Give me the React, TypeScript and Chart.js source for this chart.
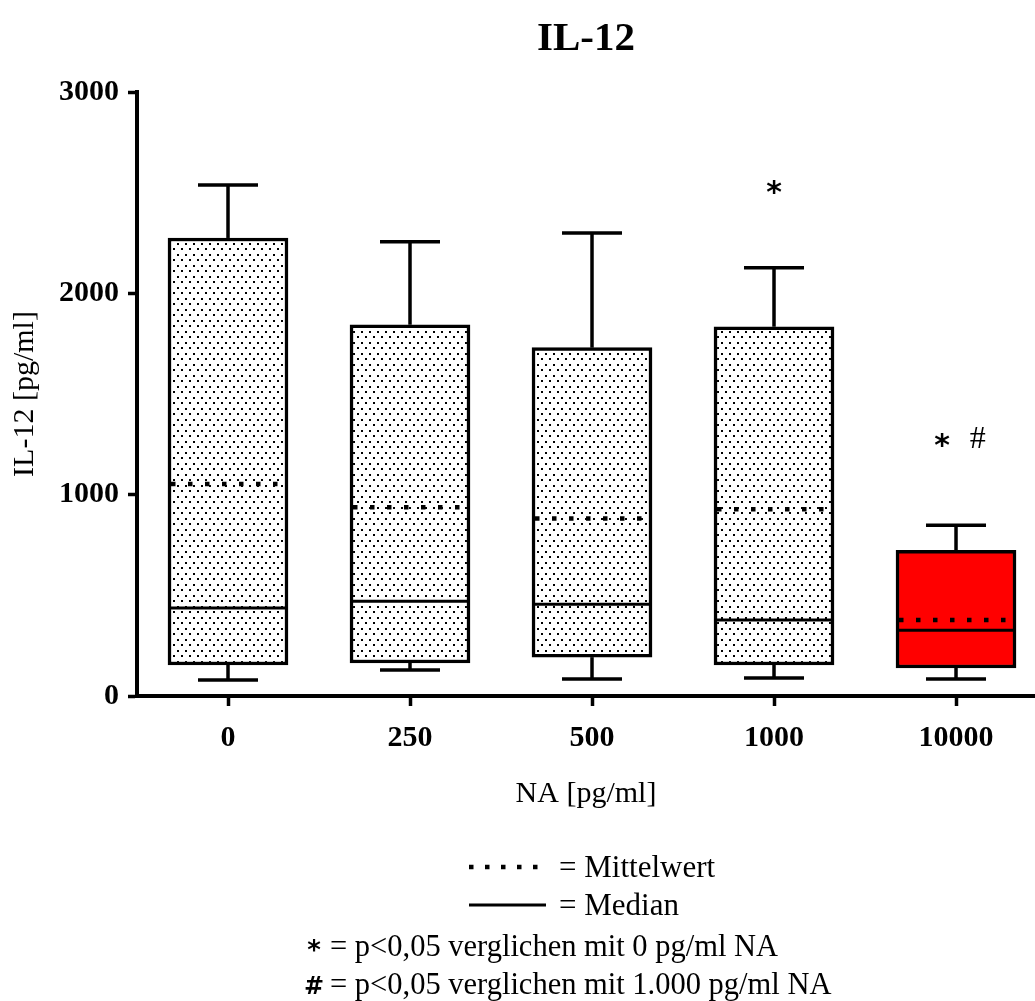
import React, { useEffect, useRef } from "react";
import { Chart, registerables } from "chart.js";

Chart.register(...registerables);

// ---- data ----
const categories = ["0", "250", "500", "1000", "10000"];
const whiskerLow = [80, 129, 84, 89, 84];
const boxLow = [154, 164, 193, 154, 139];
const medians = [437, 471, 456, 377, 327];
const means = [1053, 937, 882, 927, 377];
const boxHigh = [2275, 1844, 1730, 1834, 724];
const whiskerHigh = [2538, 2256, 2300, 2127, 848];
const boxFills = ["dots", "dots", "dots", "dots", "#ff0000"];
const yTickValues = [0, 1000, 2000, 3000];

// significance marks: category index, value (baseline), text
const sigCats = [3, 4, 4];
const sigShift = [0, -0.077, 0.12];
const sigValues = [2455, 1195, 1232];
const sigTexts = ["*", "*", "#"];

const titleText = "IL-12";
const xTitle = "NA [pg/ml]";
const yTitle = "IL-12 [pg/ml]";
const legendMean = "= Mittelwert";
const legendMedian = "= Median";
const legendStar = "= p<0,05 verglichen mit 0 pg/ml NA";
const legendHash = "= p<0,05 verglichen mit 1.000 pg/ml NA";

const SERIF = "'Liberation Serif', 'Times New Roman', serif";
const SANS = "'DejaVu Sans', sans-serif";

const BOX_W = 120;
const CAP_HALF = 30;

function line(ctx: CanvasRenderingContext2D, x1: number, y1: number, x2: number, y2: number) {
  ctx.beginPath();
  ctx.moveTo(x1, y1);
  ctx.lineTo(x2, y2);
  ctx.stroke();
}

const extrasPlugin = {
  id: "boxExtras",
  afterDatasetsDraw(chart: any) {
    const { ctx } = chart;
    const x = chart.scales.x;
    const y = chart.scales.y;
    const half = BOX_W / 2;
    ctx.save();
    ctx.strokeStyle = "#000";
    ctx.lineCap = "butt";
    categories.forEach((_, i) => {
      const cx = x.getPixelForValue(i);
      const yBH = y.getPixelForValue(boxHigh[i]);
      const yWH = y.getPixelForValue(whiskerHigh[i]);
      const yBL = y.getPixelForValue(boxLow[i]);
      const yWL = y.getPixelForValue(whiskerLow[i]);
      ctx.setLineDash([]);
      ctx.lineWidth = 3.5;
      line(ctx, cx, yBH, cx, yWH);
      line(ctx, cx - CAP_HALF, yWH, cx + CAP_HALF, yWH);
      line(ctx, cx, yBL, cx, yWL);
      line(ctx, cx - CAP_HALF, yWL, cx + CAP_HALF, yWL);
      // median
      ctx.lineWidth = 3;
      const ym = y.getPixelForValue(medians[i]);
      line(ctx, cx - half, ym, cx + half, ym);
      // mean
      ctx.lineWidth = 4.5;
      ctx.setLineDash([4.5, 12.5]);
      const ymean = y.getPixelForValue(means[i]);
      line(ctx, cx - half + 3, ymean, cx + half - 2, ymean);
    });
    ctx.setLineDash([]);
    // significance marks
    ctx.fillStyle = "#000";
    ctx.textAlign = "center";
    ctx.textBaseline = "alphabetic";
    sigTexts.forEach((t, k) => {
      const px = x.getPixelForValue(sigCats[k] + sigShift[k]);
      const py = y.getPixelForValue(sigValues[k]);
      ctx.font = t === "*" ? `bold 30px ${SANS}` : `32px ${SERIF}`;
      ctx.fillText(t, px, py);
    });
    ctx.restore();
  },
  afterDraw(chart: any) {
    const { ctx } = chart;
    ctx.save();
    ctx.fillStyle = "#000";
    ctx.strokeStyle = "#000";
    // title
    ctx.font = `bold 41px ${SERIF}`;
    ctx.textAlign = "center";
    ctx.textBaseline = "alphabetic";
    ctx.fillText(titleText, 586, 50);
    // legend
    ctx.textAlign = "left";
    ctx.font = `31px ${SERIF}`;
    ctx.lineWidth = 4.5;
    ctx.setLineDash([4.5, 11.5]);
    line(ctx, 469, 867, 548, 867);
    ctx.setLineDash([]);
    ctx.fillText(legendMean, 559, 877);
    ctx.lineWidth = 3;
    line(ctx, 469, 905, 546, 905);
    ctx.fillText(legendMedian, 559, 915);
    ctx.font = `30.5px ${SERIF}`;
    ctx.fillText(legendStar, 330, 956);
    ctx.fillText(legendHash, 330, 994);
    ctx.font = `bold 26px ${SANS}`;
    ctx.textAlign = "center";
    ctx.fillText("*", 314, 959);
    ctx.font = `bold 24px ${SANS}`;
    ctx.fillText("#", 314, 994);
    ctx.restore();
  },
};

export default function App() {
  const ref = useRef<HTMLCanvasElement | null>(null);
  useEffect(() => {
    document.body.style.margin = "0";
    const canvas = ref.current;
    if (!canvas) return;
    const c2d = canvas.getContext("2d") as CanvasRenderingContext2D;
    const off = document.createElement("canvas");
    off.width = 8;
    off.height = 11;
    const octx = off.getContext("2d") as CanvasRenderingContext2D;
    octx.fillStyle = "#fff";
    octx.fillRect(0, 0, 8, 11);
    octx.fillStyle = "#000";
    octx.fillRect(1, 1, 2, 2);
    octx.fillRect(5, 6, 2, 2);
    const pattern = c2d.createPattern(off, "repeat");

    const chart = new Chart(canvas, {
      type: "bar",
      data: {
        datasets: [
          {
            data: categories.map((_, i) => ({ x: i, y: [boxLow[i], boxHigh[i]] })) as any,
            backgroundColor: boxFills.map((f) => (f === "dots" ? pattern : f)) as any,
            borderColor: "#000",
            borderWidth: 3.5,
            borderSkipped: false,
            barThickness: BOX_W,
            grouped: false,
          } as any,
        ],
      },
      plugins: [extrasPlugin],
      options: {
        responsive: false,
        animation: false,
        devicePixelRatio: 1,
        layout: { padding: { top: 92, bottom: 189, left: 0, right: 0 } },
        plugins: {
          legend: { display: false },
          tooltip: { enabled: false },
          title: { display: false },
        },
        scales: {
          x: {
            type: "linear",
            offset: false,
            min: -0.5,
            max: 4.434,
            afterBuildTicks: (scale: any) => {
              scale.ticks = categories.map((_, i) => ({ value: i }));
            },
            afterFit: (scale: any) => {
              scale.height = 116;
            },
            ticks: {
              stepSize: 1,
              autoSkip: false,
              maxRotation: 0,
              padding: 14,
              color: "#000",
              font: { family: SERIF, size: 30, weight: "bold" },
              callback: (v: any) => categories[Number(v)] ?? "",
            },
            grid: {
              offset: false,
              drawOnChartArea: false,
              drawTicks: true,
              tickLength: 10,
              tickWidth: 3.5,
              color: "#000",
            },
            border: { display: true, color: "#000", width: 4 },
            title: {
              display: true,
              text: xTitle,
              color: "#000",
              font: { family: SERIF, size: 30 },
              padding: { top: 0, bottom: 0 },
            },
          },
          y: {
            type: "linear",
            min: 0,
            max: 3000,
            afterBuildTicks: (scale: any) => {
              scale.ticks = yTickValues.map((v) => ({ value: v }));
            },
            afterFit: (scale: any) => {
              scale.width = 137;
            },
            ticks: {
              stepSize: 1000,
              padding: 9,
              color: "#000",
              font: { family: SERIF, size: 30, weight: "bold" },
              callback: (v: any) => String(v),
            },
            grid: {
              drawOnChartArea: false,
              drawTicks: true,
              tickLength: 9,
              tickWidth: 3.5,
              color: "#000",
            },
            border: { display: true, color: "#000", width: 4 },
            title: {
              display: true,
              text: yTitle,
              color: "#000",
              font: { family: SERIF, size: 30 },
              padding: { top: 7, bottom: 0 },
            },
          },
        },
      } as any,
    });
    return () => chart.destroy();
  }, []);
  return <canvas ref={ref} width={1035} height={1001} style={{ display: "block", width: 1035, height: 1001 }} />;
}
